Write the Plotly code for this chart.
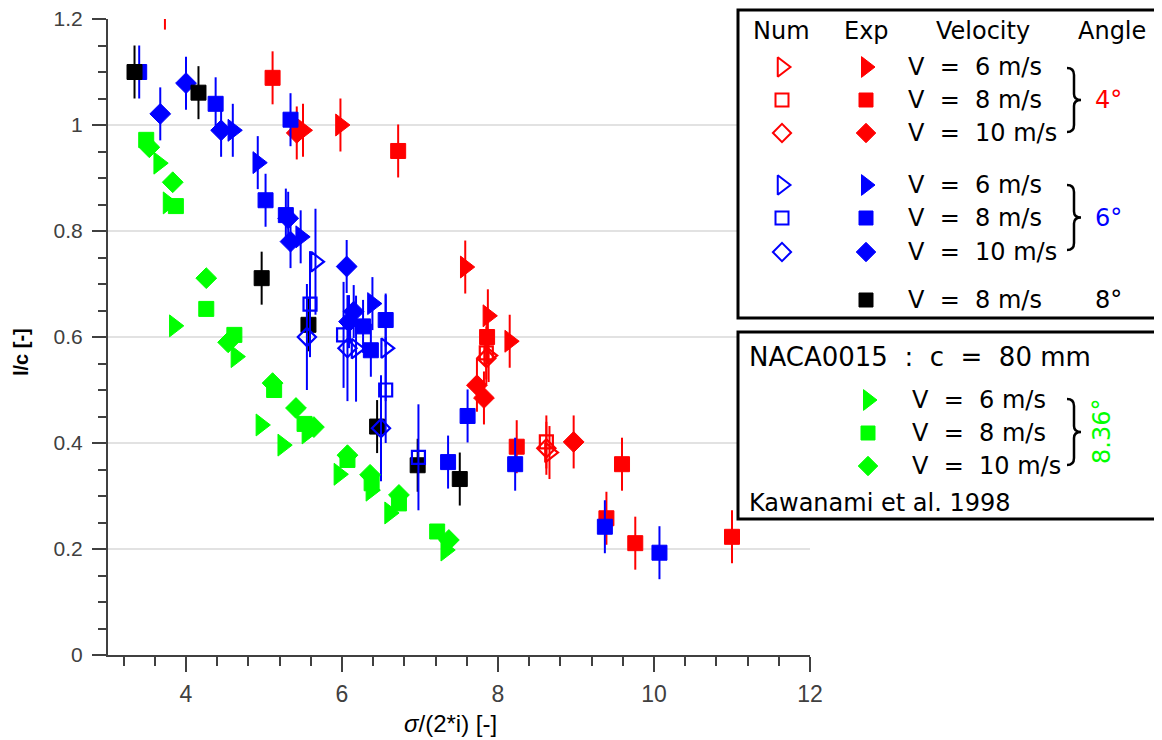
import plotly.graph_objects as go

RED, BLUE, BLACK, GREEN = "#ff0000", "#0000ff", "#000000", "#00ff00"

# ---------------- data (sigma/(2i), l/c) ----------------
# 4 deg, experiments
red_exp_tri_x = [3.73, 5.50, 5.98, 7.58, 7.87, 8.15]
red_exp_tri_y = [1.23, 0.99, 1.00, 0.732, 0.64, 0.592]
red_exp_sq_x = [5.11, 6.72, 7.86, 8.24, 9.39, 9.59, 9.76, 11.0]
red_exp_sq_y = [1.089, 0.951, 0.60, 0.393, 0.258, 0.36, 0.211, 0.223]
red_exp_dia_x = [5.42, 7.73, 7.82, 8.97]
red_exp_dia_y = [0.985, 0.509, 0.485, 0.402]
# 4 deg, numerical
red_num_tri_x = [7.88, 8.66]
red_num_tri_y = [0.565, 0.382]
red_num_sq_x = [7.85, 8.62]
red_num_sq_y = [0.57, 0.402]
red_num_dia_x = [7.85, 8.62]
red_num_dia_y = [0.56, 0.39]

# 6 deg, experiments
blue_exp_tri_x = [4.60, 4.92, 5.47, 6.39]
blue_exp_tri_y = [0.99, 0.929, 0.789, 0.663]
blue_exp_sq_x = [3.40, 4.38, 5.34, 5.02, 5.28, 6.27, 6.56, 6.37, 7.61, 7.36, 8.22, 9.37, 10.07]
blue_exp_sq_y = [1.10, 1.04, 1.01, 0.858, 0.83, 0.62, 0.632, 0.575, 0.451, 0.364, 0.36, 0.242, 0.193]
blue_exp_dia_x = [3.67, 4.00, 4.45, 5.31, 5.34, 6.06, 6.15, 6.09]
blue_exp_dia_y = [1.021, 1.079, 0.99, 0.824, 0.78, 0.733, 0.648, 0.629]
# 6 deg, numerical
blue_num_tri_x = [5.66, 6.18, 6.56]
blue_num_tri_y = [0.742, 0.578, 0.579]
blue_num_sq_x = [5.59, 6.02, 6.56, 6.98]
blue_num_sq_y = [0.662, 0.604, 0.50, 0.373]
blue_num_dia_x = [5.55, 6.07, 6.50]
blue_num_dia_y = [0.60, 0.579, 0.428]

# 8 deg, experiments
black_exp_sq_x = [3.34, 4.16, 4.97, 5.57, 6.45, 6.97, 7.51]
black_exp_sq_y = [1.10, 1.061, 0.711, 0.623, 0.431, 0.358, 0.332]

# Kawanami et al. 1998 (8.36 deg)
green_tri_x = [3.65, 3.77, 3.85, 4.64, 4.96, 5.24, 5.55, 5.96, 6.37, 6.61, 7.33]
green_tri_y = [0.928, 0.853, 0.621, 0.563, 0.434, 0.396, 0.419, 0.341, 0.311, 0.268, 0.198]
green_sq_x = [3.49, 3.87, 4.26, 4.62, 5.13, 5.52, 6.07, 6.38, 6.73, 7.22]
green_sq_y = [0.972, 0.847, 0.653, 0.604, 0.50, 0.436, 0.368, 0.324, 0.286, 0.233]
green_dia_x = [3.53, 3.83, 4.26, 4.54, 5.11, 5.41, 5.64, 6.07, 6.36, 6.73, 7.37]
green_dia_y = [0.958, 0.892, 0.711, 0.59, 0.513, 0.466, 0.43, 0.377, 0.34, 0.302, 0.217]

EXP_ERR = 0.05
NUM_ERR = 0.10

x_ticks = [4, 6, 8, 10, 12]
y_ticks = [0, 0.2, 0.4, 0.6, 0.8, 1.0, 1.2]
y_ticktext = ["0", "0.2", "0.4", "0.6", "0.8", "1", "1.2"]
x_title = "<i>σ</i>/(2*i) [-]"
y_title = "<b>l/c [-]</b>"

# ---------------- geometry ----------------
# the html body adds an 8 px offset; figure coords = screen coords - OFF
OFF = 8
W, H = 1162 - OFF, 740 - OFF
AX_L, AX_R, AX_T, AX_B = 108, 810, 19, 655          # plot box on screen
ML, MR, MT, MB = AX_L - OFF, 0, 0, H - (AX_B - OFF)
PW, PH = W - ML - MR, H - MT - MB


def paper_x(sx):
    return (sx - OFF - ML) / PW


def paper_y(sy):
    return 1 - (sy - OFF - MT) / PH


fig = go.Figure()

SIZES = {"triangle-right": 19, "square": 15, "diamond": 16}


def add(x, y, color, sym, err=None, hollow=False):
    symbol = sym + ("-open" if hollow else "")
    tr = go.Scatter(
        x=x, y=y, mode="markers", xaxis="x", yaxis="y",
        marker=dict(symbol=symbol, size=SIZES[sym] - (2 if hollow else 0), color=color,
                    line=dict(color=color, width=2.2 if hollow else 1)),
        showlegend=False, hoverinfo="skip",
    )
    if err is not None:
        tr.error_y = dict(type="constant", value=err, color=color, thickness=2, width=0)
    fig.add_trace(tr)


add(red_exp_tri_x, red_exp_tri_y, RED, "triangle-right", EXP_ERR)
add(red_exp_sq_x, red_exp_sq_y, RED, "square", EXP_ERR)
add(red_exp_dia_x, red_exp_dia_y, RED, "diamond", EXP_ERR)
add(red_num_tri_x, red_num_tri_y, RED, "triangle-right", EXP_ERR, True)
add(red_num_sq_x, red_num_sq_y, RED, "square", EXP_ERR, True)
add(red_num_dia_x, red_num_dia_y, RED, "diamond", EXP_ERR, True)
add(blue_exp_tri_x, blue_exp_tri_y, BLUE, "triangle-right", EXP_ERR)
add(blue_exp_sq_x, blue_exp_sq_y, BLUE, "square", EXP_ERR)
add(blue_exp_dia_x, blue_exp_dia_y, BLUE, "diamond", EXP_ERR)
add(black_exp_sq_x, black_exp_sq_y, BLACK, "square", EXP_ERR)
add(blue_num_tri_x, blue_num_tri_y, BLUE, "triangle-right", NUM_ERR, True)
add(blue_num_sq_x, blue_num_sq_y, BLUE, "square", NUM_ERR, True)
add(blue_num_dia_x, blue_num_dia_y, BLUE, "diamond", NUM_ERR, True)
add(green_tri_x, green_tri_y, GREEN, "triangle-right")
add(green_sq_x, green_sq_y, GREEN, "square")
add(green_dia_x, green_dia_y, GREEN, "diamond")

# ---------------- legend overlay (subplot in screen-pixel units) ----------------
BOXES = [(738, 1159, 10, 318), (738, 1159, 332, 519)]
for bx0, bx1, by0, by1 in BOXES:
    fig.add_trace(go.Scatter(
        x=[bx0, bx1, bx1, bx0, bx0], y=[by0, by0, by1, by1, by0], xaxis="x2", yaxis="y2",
        mode="lines", fill="toself", fillcolor="white", line=dict(width=0, color="white"),
        showlegend=False, hoverinfo="skip"))

NUM_X, EXP_X = 782, 866
leg_rows = [
    (NUM_X, 67, "triangle-right-open", RED), (EXP_X, 67, "triangle-right", RED),
    (NUM_X, 100, "square-open", RED), (EXP_X, 100, "square", RED),
    (NUM_X, 133, "diamond-open", RED), (EXP_X, 133, "diamond", RED),
    (NUM_X, 185, "triangle-right-open", BLUE), (EXP_X, 185, "triangle-right", BLUE),
    (NUM_X, 218, "square-open", BLUE), (EXP_X, 218, "square", BLUE),
    (NUM_X, 252, "diamond-open", BLUE), (EXP_X, 252, "diamond", BLUE),
    (EXP_X, 300, "square", BLACK),
    (868, 400, "triangle-right", GREEN), (868, 433, "square", GREEN), (868, 466, "diamond", GREEN),
]
leg_size = {"triangle-right": 18, "square": 14, "diamond": 15}
for lx, ly, sym, col in leg_rows:
    base = sym.replace("-open", "")
    hollow = sym.endswith("-open")
    fig.add_trace(go.Scatter(
        x=[lx], y=[ly], mode="markers", xaxis="x2", yaxis="y2",
        marker=dict(symbol=sym, size=leg_size[base] - (1 if hollow else 0), color=col,
                    line=dict(color=col, width=2 if hollow else 1)),
        showlegend=False, hoverinfo="skip"))

shapes = [
    dict(type="rect", xref="x2", yref="y2", x0=bx0, x1=bx1, y0=by0, y1=by1, layer="above",
         line=dict(color="black", width=3), fillcolor="rgba(0,0,0,0)")
    for bx0, bx1, by0, by1 in BOXES
]


def brace(y0, y1):
    ym = (y0 + y1) / 2
    xa, xs, xt = 1067, 1074, 1081
    p = (f"M {xa} {y0} Q {xs} {y0} {xs} {y0 + 7} L {xs} {ym - 6} Q {xs} {ym} {xt} {ym} "
         f"Q {xs} {ym} {xs} {ym + 6} L {xs} {y1 - 7} Q {xs} {y1} {xa} {y1}")
    return dict(type="path", xref="x2", yref="y2", path=p, layer="above",
                line=dict(color="black", width=2.5))


shapes += [brace(68, 132), brace(185, 250), brace(399, 465)]

FONT = "DejaVu Sans"
AXFONT = "Liberation Sans, Arial, sans-serif"
NB = "\u00a0"
ann = []


def txt(x, y, s, size=23, color="black", xanchor="left", angle=0, family=FONT):
    ann.append(dict(x=x, y=y, xref="x2", yref="y2", text=s, showarrow=False,
                    xanchor=xanchor, yanchor="middle", textangle=angle,
                    font=dict(family=family, size=size, color=color)))


for label, cx in [("Num", 781), ("Exp", 866), ("Velocity", 983), ("Angle", 1112)]:
    txt(cx, 31, label, size=24, xanchor="center")


def vlabel(v):
    return f"V{NB}{NB}={NB}{NB}{v} m/s"


for y, v in [(67, 6), (100, 8), (133, 10), (185, 6), (218, 8), (252, 10), (300, 8)]:
    txt(906, y, vlabel(v), size=24)
txt(1108, 100, "4°", size=24, color=RED, xanchor="center")
txt(1108, 218, "6°", size=24, color=BLUE, xanchor="center")
txt(1108, 300, "8°", size=24, color=BLACK, xanchor="center")

txt(747, 357, f"NACA0015{NB}{NB}:{NB}{NB}c{NB}{NB}={NB}{NB}80 mm", size=26)
for y, v in [(400, 6), (433, 8), (466, 10)]:
    txt(910, y, vlabel(v), size=24)
txt(1102, 432, "8.36°", size=24, color=GREEN, xanchor="center", angle=-90)
txt(747, 503, "Kawanami et al. 1998", size=24)

# axis titles (paper coordinates, placed as in the reference)
ann.append(dict(x=paper_x(450), y=paper_y(723), xref="paper", yref="paper", text=x_title,
                showarrow=False, xanchor="center", yanchor="middle",
                font=dict(family=AXFONT, size=24, color="black")))
ann.append(dict(x=paper_x(21), y=paper_y(352), xref="paper", yref="paper", text=y_title,
                showarrow=False, xanchor="center", yanchor="middle", textangle=-90,
                font=dict(family=AXFONT, size=20, color="black")))

fig.update_layout(
    width=W, height=H,
    margin=dict(l=ML, r=MR, t=MT, b=MB, autoexpand=False),
    paper_bgcolor="white", plot_bgcolor="rgba(0,0,0,0)",
    showlegend=False,
    shapes=shapes, annotations=ann,
    xaxis=dict(
        domain=[0, (AX_R - AX_L) / PW], anchor="y", range=[3, 12], automargin=False,
        tickvals=x_ticks, ticks="outside", ticklen=15, tickwidth=2, tickcolor="#404040",
        minor=dict(dtick=0.4, tick0=4, ticks="outside", ticklen=9, tickwidth=2, tickcolor="#404040"),
        showline=True, linecolor="#404040", linewidth=2, showgrid=False, zeroline=False,
        tickfont=dict(family=AXFONT, size=23, color="#404040"),
        ticklabelstandoff=2, ticklabeloverflow="allow",
    ),
    yaxis=dict(
        domain=[0, (AX_B - AX_T) / PH], anchor="x", range=[0, 1.2], automargin=False,
        tickvals=y_ticks, ticktext=y_ticktext, ticks="outside", ticklen=14, tickwidth=2,
        tickcolor="#404040",
        minor=dict(dtick=0.05, ticks="outside", ticklen=8, tickwidth=2, tickcolor="#404040",
                   showgrid=False),
        showline=True, linecolor="#404040", linewidth=2, zeroline=False,
        showgrid=True, gridcolor="#e2e2e2", gridwidth=2,
        tickfont=dict(family=AXFONT, size=21, color="#404040"),
        ticklabelstandoff=5, ticklabeloverflow="allow",
    ),
    xaxis2=dict(domain=[0, 1], anchor="y2", range=[ML + OFF, W - MR + OFF], visible=False,
                fixedrange=True, automargin=False),
    yaxis2=dict(domain=[0, 1], anchor="x2", range=[H - MB + OFF, MT + OFF], visible=False,
                fixedrange=True, automargin=False),
)

fig.write_html("out.html")
